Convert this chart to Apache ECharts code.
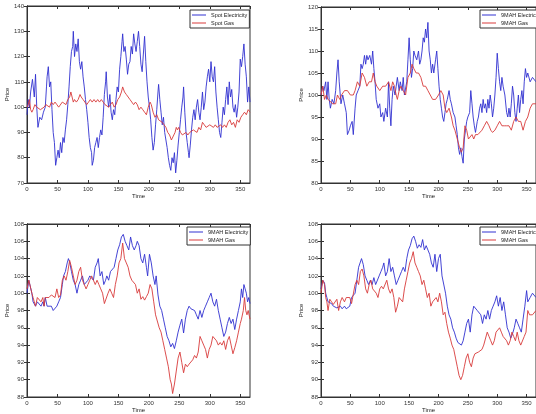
<!DOCTYPE html>
<html><head><meta charset="utf-8">
<script src="https://cdn.jsdelivr.net/npm/echarts@6/dist/echarts.min.js"></script>
<style>html,body{margin:0;padding:0;background:#fff}#c{width:536px;height:414px}</style>
</head><body><div id="c"></div>
<script>
// ---- Data (time in days, price index) ----
const xTicks = [0, 50, 100, 150, 200, 250, 300, 350];
const legendNames1 = ['Spot Electricity', 'Spot Gas'];
const legendNames2 = ['9MAH Electricity', '9MAH Gas'];
const legendNames3 = ['9MAH Electricity', '9MAH Gas'];
const legendNames4 = ['9MAH Electricity', '9MAH Gas'];

const spotElec = [[0,97],[2,103],[4,100],[6,106],[9,111],[12,104],[14,113],[16,100],[18,92],[21,96],[24,95],[27,98],[30,100],[32,108],[33,112],[35,116],[37,108],[39,110],[41,99],[43,90],[45,86],[47,77],[49,80],[51,83],[53,80],[55,86],[57,82],[59,88],[61,86],[63,91],[65,95],[67,101],[69,108],[71,116],[73,122],[75,124],[76,130],[78,120],[80,125],[82,122],[84,127],[86,118],[88,115],[90,118],[92,112],[94,108],[96,103],[98,99],[100,94],[102,88],[104,84],[106,82],[107,77],[109,79],[111,84],[113,86],[115,88],[117,84],[119,88],[121,91],[123,89],[125,96],[127,105],[129,110],[130,114],[132,104],[134,100],[136,105],[138,98],[140,95],[142,99],[144,97],[146,103],[148,108],[150,106],[152,115],[154,120],[156,126],[157,129],[159,122],[161,124],[163,119],[165,113],[167,117],[169,118],[171,124],[173,121],[175,129],[177,125],[179,122],[181,126],[183,130],[185,124],[187,117],[189,114],[191,121],[193,128],[195,118],[197,110],[199,104],[201,100],[203,95],[205,88],[207,83],[209,86],[211,93],[213,99],[215,106],[216,109],[218,103],[220,98],[222,93],[224,96],[226,90],[228,87],[230,84],[232,80],[234,77],[236,75],[238,80],[240,78],[242,82],[244,74],[246,79],[248,85],[250,90],[252,95],[254,100],[256,104],[257,108],[259,98],[261,90],[263,86],[265,82],[266,80],[268,85],[270,91],[272,96],[274,99],[276,95],[278,100],[280,103],[282,98],[284,95],[286,100],[288,106],[290,99],[292,102],[294,108],[296,112],[298,115],[300,110],[302,118],[304,112],[306,110],[308,116],[310,106],[312,100],[314,95],[316,90],[318,88],[320,94],[322,100],[324,97],[326,103],[328,108],[330,101],[332,110],[334,104],[336,107],[338,100],[340,98],[342,101],[344,96],[346,100],[348,106],[350,119],[352,116],[354,120],[356,125],[358,117],[360,112],[362,102],[364,108],[366,102]];
const spotGas = [[0,100],[2,101],[4,103],[6,99],[8,98],[10,99],[13,101],[16,100],[19,100],[22,99],[25,99],[28,100],[31,101],[34,101],[37,100],[40,102],[43,101],[46,102],[49,101],[52,100],[55,100],[58,102],[61,102],[64,101],[67,103],[70,104],[72,106],[74,104],[76,102],[78,103],[81,102],[84,103],[87,105],[89,104],[92,103],[95,102],[98,101],[101,102],[104,103],[107,102],[110,103],[113,102],[116,103],[119,102],[122,103],[125,102],[128,101],[131,101],[134,100],[137,101],[140,102],[143,100],[146,101],[149,103],[152,104],[155,106],[157,108],[160,106],[163,105],[166,104],[169,103],[172,103],[175,101],[178,102],[181,101],[184,99],[187,100],[190,99],[193,98],[196,97],[199,100],[202,102],[204,101],[207,98],[210,96],[213,97],[216,95],[219,95],[222,94],[225,93],[228,92],[231,90],[234,89],[237,87],[239,87],[241,89],[243,90],[245,92],[247,91],[249,92],[252,90],[255,89],[258,89],[261,90],[264,89],[267,90],[270,90],[273,91],[276,91],[279,90],[282,92],[285,91],[288,94],[291,93],[294,92],[297,92],[300,93],[303,93],[306,92],[309,93],[312,92],[315,92],[318,93],[321,92],[324,93],[327,92],[330,94],[333,95],[336,93],[339,94],[342,92],[345,95],[348,94],[351,96],[354,97],[357,98],[360,97],[363,99],[366,98]];

const mahElecA = [[0,100],[3,102],[5,101],[8,103],[10,99],[12,103],[14,99],[16,97],[19,99],[22,98],[25,101],[27,105],[29,108],[31,103],[34,98],[37,100],[40,98],[43,96],[45,91],[48,92],[50,93],[53,94],[55,91],[58,97],[60,100],[63,101],[66,102],[68,107],[70,106],[72,107],[74,109],[76,107],[78,109],[80,108],[83,109],[86,107],[88,110],[90,106],[92,103],[94,99],[97,97],[100,98],[102,95],[105,96],[107,94],[110,97],[113,95],[115,103],[117,97],[119,93],[121,99],[123,102],[126,100],[128,102],[130,104],[133,101],[135,103],[138,101],[140,104],[142,100],[144,100],[146,103],[148,108],[150,113],[152,108],[154,104],[156,106],[158,110],[160,109],[163,108],[166,110],[168,107],[170,108],[172,110],[174,113],[176,112],[178,115],[180,113],[182,116.5],[184,110],[186,108],[188,105],[190,107],[192,105],[195,108],[197,110],[199,106],[201,102],[203,99],[205,97],[207,95],[209,94],[211,96],[213,98],[215,99],[218,101],[220,99],[222,98],[225,96],[228,95],[230,93],[232,91],[234,88],[236,86.5],[238,88],[240,86],[242,84.5],[244,90],[246,92],[248,94],[250,95],[253,96],[255,101],[257,98],[259,95],[261,93],[263,91.5],[266,94],[268,95],[270,97],[272,98],[274,96],[276,99],[278,97],[280,98],[282,96],[284,99],[286,97],[288,100],[290,98],[292,95],[294,97],[296,100],[298,104],[300,109.5],[302,106],[304,103],[306,101],[308,104],[310,102],[313,100],[316,96],[318,95],[320,97],[322,95],[324,98],[326,102],[328,100],[330,96],[332,94],[334,97],[336,100],[338,96],[340,99],[342,101],[344,98],[346,103],[348,106],[350,104],[352,105],[356,103],[360,104],[366,103]];
const mahGasA = [[0,100],[3,102],[6,99],[9,100],[12,99],[15,99],[20,98],[25,98],[28,100],[32,99],[35,100],[40,101],[45,101],[50,100],[55,100],[58,101],[62,103],[66,102],[70,105],[74,104],[78,102],[82,103],[86,103],[89,105],[92,103],[95,102],[100,101],[105,102],[110,102],[115,103],[119,101],[122,103],[125,102],[128,100],[130,99],[133,101],[136,102],[140,101],[144,100],[148,104],[152,105],[155,107],[158,106],[162,105],[166,105],[170,104],[174,102],[178,102],[182,101],[186,100],[190,99],[195,99],[200,100],[204,101],[208,100],[211,97],[214,96],[218,97],[222,95],[225,93],[228,92],[232,90],[236,88],[239,87],[242,88],[245,93],[248,92],[251,90],[254,90],[257,91],[260,90],[263,91],[267,91],[270,91],[274,92],[278,93],[282,94],[286,93],[289,92],[292,91.5],[296,92],[300,93],[304,94],[308,93],[312,93],[316,93],[320,93],[324,92],[328,94],[332,95],[336,94],[340,94],[344,92],[348,94],[352,95],[356,97],[360,98],[366,98]];

const mahElecB = [[0,100],[3,101.5],[6,101.5],[8,100],[10,99],[12,99],[14,98.5],[17,99],[20,98.8],[23,98.5],[26,99],[28,98.5],[30,99.5],[33,98.5],[36,98.5],[40,98.5],[43,98],[46,97.8],[49,98.5],[52,99],[55,99.5],[58,101],[60,102],[63,102.5],[66,103.5],[68,104],[70,103.6],[73,102.5],[76,101.5],[79,101],[82,100],[85,101],[88,101.5],[91,102],[94,101],[97,101],[100,101.5],[103,102],[106,102],[109,101.5],[112,103],[115,103.5],[117,104],[120,102],[123,102.5],[126,101],[129,101.5],[131,102],[134,101.5],[137,102.5],[140,102.5],[143,103],[146,104],[149,105],[152,105.6],[155,106.5],[158,106.8],[161,106],[164,105.5],[167,105],[170,106.5],[173,105.5],[176,105],[179,105.5],[181,106],[184,105.5],[187,104],[190,103.5],[193,104.5],[196,103],[198,102],[201,104.5],[204,103.5],[207,102],[210,101],[212,102],[215,99.8],[218,98.5],[221,98],[224,97],[227,96],[230,95],[233,94.5],[236,93.8],[239,94.2],[242,93.6],[245,94.5],[248,95.5],[251,96.3],[254,97],[257,95.4],[260,97],[263,98],[266,98.5],[269,98.2],[272,98.3],[275,98],[278,97.5],[281,97],[284,98],[287,97.2],[290,98],[293,98.5],[296,99],[299,99.5],[302,100],[305,99],[308,98.5],[311,99.3],[314,98],[317,97],[320,96],[323,95],[326,95.5],[329,96.5],[332,97.2],[335,96.5],[338,97],[341,95.8],[344,97],[347,98],[350,99],[352,100.5],[354,99.5],[356,101],[358,100.5],[360,100],[362,99],[364,99.5],[366,98.8]];
const mahGasB = [[0,100.5],[3,101.5],[6,101.5],[8,100],[10,99.5],[12,99],[14,98.5],[17,99.5],[20,99.5],[23,99],[26,99.5],[28,98.5],[30,99.5],[33,99.5],[36,99.5],[40,99.8],[43,100],[46,99.5],[49,100.5],[52,99.5],[55,99.8],[58,101.5],[61,102],[64,101.5],[67,102.5],[70,103.8],[73,103],[76,102],[79,101],[82,101.5],[85,102.5],[88,103],[91,101.5],[94,101],[97,100.5],[100,101],[103,101.5],[106,102],[109,101.5],[112,101],[115,101.5],[118,101],[121,100.5],[124,100],[127,98.8],[130,98.7],[133,100],[136,100.5],[139,100],[142,99.5],[145,101],[148,102],[151,103.5],[154,104],[157,105.8],[160,104],[163,103.5],[166,103],[169,102],[172,101.5],[175,101.5],[178,101],[181,100],[184,100.5],[187,99.3],[190,99.6],[193,99.2],[196,99.6],[199,100],[202,101],[205,100.5],[208,99],[211,97.5],[214,97.5],[217,96],[220,95.5],[223,94.5],[226,93.5],[229,92.5],[232,91.5],[235,90],[237,89.5],[239,88.4],[242,89.5],[245,91],[248,92.5],[251,93.2],[254,92],[257,90.8],[260,91.8],[263,91.5],[266,91.8],[269,92],[272,92.3],[275,92.8],[278,92.5],[281,93.2],[284,95],[287,94.5],[290,94],[293,93.5],[296,92.5],[299,93.5],[302,94],[305,95],[308,95],[311,94.5],[314,94],[317,94.3],[320,94],[323,94.5],[326,93.5],[329,94.5],[332,95],[335,94],[338,93],[341,93.7],[344,94.5],[347,95.5],[350,96.5],[352,97],[355,98],[357,99.5],[359,98],[361,97.5],[363,98],[366,97]];

const mahElecC = [[0,100.5],[3,101.5],[6,101.2],[8,100],[10,99.5],[12,99],[15,98.8],[18,98.8],[21,98.5],[24,98.7],[27,98.3],[30,98.5],[33,98.5],[36,98.2],[40,98.5],[43,98.2],[46,98.3],[49,98.5],[52,99.5],[55,99.3],[58,100],[61,101.5],[64,103],[67,103],[69,104],[72,103.3],[75,102],[78,101.5],[81,101],[84,101.5],[87,101],[90,101.8],[93,101],[96,101],[99,102],[102,102.5],[105,103],[107,103.5],[110,102],[113,102.5],[116,104],[119,102.5],[122,103],[125,102],[128,101],[131,101.5],[134,102],[137,102.5],[140,103],[143,102.5],[146,104],[149,105],[152,105.5],[155,106.3],[158,106.6],[161,106],[164,105.2],[167,105.6],[170,105.3],[173,106.2],[176,105],[179,105.5],[182,105],[185,104.5],[188,103.5],[191,103],[194,104.5],[197,102.5],[200,104],[203,104.5],[206,102],[209,101.8],[212,100],[215,98.5],[218,97.5],[221,97],[224,96],[227,95.5],[230,94.8],[233,94.3],[236,94.5],[239,94],[242,94.5],[245,95.5],[248,96.5],[251,97],[254,95.5],[257,97.5],[260,98.5],[263,98.6],[266,98],[269,98],[272,97.5],[275,96.5],[278,97.5],[281,97],[284,98],[287,97],[290,98],[293,98.5],[296,99],[299,99.7],[302,98.5],[305,99.5],[308,98],[311,99],[314,97.5],[317,96],[320,95.5],[323,94.8],[326,95.3],[329,96],[332,97],[335,96.5],[338,96],[341,95.5],[344,97],[347,98.5],[350,100.3],[352,99],[356,99.5],[360,100],[366,99.5]];
const mahGasC = [[0,100],[3,101.5],[6,101],[8,99.5],[10,99],[12,98],[15,99.3],[18,99],[21,98.7],[24,98.5],[27,99.3],[30,98],[33,99],[36,99.5],[40,99],[43,99.5],[46,99.3],[49,99.5],[52,98.8],[55,99],[58,101],[61,101.5],[64,101],[67,102.5],[70,102.8],[73,102],[76,100.5],[79,100],[82,101],[85,101.5],[88,100.5],[91,100.5],[94,100],[97,99.5],[100,100.5],[103,100.8],[106,100.5],[109,100.5],[112,101.5],[115,100.5],[118,100],[121,100.5],[124,99.5],[127,97.8],[130,98.5],[133,99.5],[136,99.5],[139,99],[142,100.5],[145,101.5],[148,102.5],[151,103.5],[154,104],[157,104.8],[160,103.5],[163,103],[166,102.5],[169,102],[172,101],[175,101.5],[178,100.5],[181,99.5],[184,100],[187,98.5],[190,99],[193,98.8],[196,99.5],[199,99],[202,100],[205,99],[208,97.5],[211,97.8],[214,96.5],[217,95.5],[220,94.8],[223,94],[226,93.5],[229,92.5],[232,91.5],[235,90.5],[238,90],[241,90.5],[244,91.5],[247,92.5],[250,93],[253,92],[256,91.5],[259,92.5],[262,93],[265,93],[268,93.2],[271,93.3],[274,93.5],[277,94],[280,94],[283,95.5],[286,95],[289,94.5],[292,94],[295,94.5],[298,95.5],[301,95.5],[304,96],[307,95.5],[310,95],[313,95],[316,94.5],[319,94],[322,94.5],[325,95.5],[328,95],[331,94.5],[334,95.5],[337,94.5],[340,94],[343,93.8],[346,95],[349,95.5],[352,98],[355,97.5],[360,97.5],[366,98]];

// ---- Layout ----
const panels = [
  {grid:{left:27, top:6, width:223, height:177}, ymin:70, ymax:140, yint:10, names:legendNames1, elec:spotElec, gas:spotGas, lg:{left:190, top:10}},
  {grid:{left:321, top:7, width:224, height:176}, ymin:80, ymax:120, yint:5, names:legendNames2, elec:mahElecA, gas:mahGasA, lg:{left:480, top:10}},
  {grid:{left:27, top:224, width:223, height:176}, ymin:88, ymax:108, yint:2, names:legendNames3, elec:mahElecB, gas:mahGasB, lg:{left:187, top:227}},
  {grid:{left:321, top:224, width:224, height:176}, ymin:88, ymax:108, yint:2, names:legendNames4, elec:mahElecC, gas:mahGasC, lg:{left:480, top:227}}
];
const FONT = 'Liberation Sans';
const lab = {fontSize:6, color:'#333', fontFamily:FONT};
const grid=[], xAxis=[], yAxis=[], series=[], legend=[];
panels.forEach((p,i)=>{
  grid.push(Object.assign({show:true, borderColor:'#333', borderWidth:1, backgroundColor:'#fff'}, p.grid));
  const xbase = {type:'value', gridIndex:i, min:0, max:366, interval:50, splitLine:{show:false},
    axisLine:{show:true, lineStyle:{color:'#333', width:1}}, axisTick:{inside:true, length:3, lineStyle:{color:'#333'}}};
  xAxis.push(Object.assign({}, xbase, {position:'bottom', name:'Time', nameLocation:'middle', nameGap:10,
    nameTextStyle:{fontSize:6, color:'#222', fontFamily:FONT},
    axisLabel:Object.assign({margin:3, showMaxLabel:false}, lab)}));
  xAxis.push(Object.assign({}, xbase, {position:'top', axisLabel:{show:false}}));
  const ybase = {type:'value', gridIndex:i, min:p.ymin, max:p.ymax, interval:p.yint, splitLine:{show:false},
    axisLine:{show:true, lineStyle:{color:'#333', width:1}}, axisTick:{inside:true, length:3, lineStyle:{color:'#333'}}};
  yAxis.push(Object.assign({}, ybase, {position:'left', name:'Price', nameLocation:'middle', nameGap:15,
    nameTextStyle:{fontSize:6, color:'#222', fontFamily:FONT},
    axisLabel:Object.assign({margin:3}, lab)}));
  yAxis.push(Object.assign({}, ybase, {position:'right', axisLabel:{show:false}}));
  series.push({type:'line', name:p.names[0], xAxisIndex:2*i, yAxisIndex:2*i, data:p.elec, showSymbol:false,
    lineStyle:{color:'#3030d0', width:0.9}, itemStyle:{color:'#3030d0'}, z:2});
  series.push({type:'line', name:p.names[1], xAxisIndex:2*i, yAxisIndex:2*i, data:p.gas, showSymbol:false,
    lineStyle:{color:'#d83a3a', width:0.9}, itemStyle:{color:'#d83a3a'}, z:3});
  legend.push({data:p.names, orient:'vertical', left:p.lg.left, top:p.lg.top, backgroundColor:'#fff',
    borderColor:'#333', borderWidth:1, borderRadius:0, padding:[2,2,2,2], itemGap:2, itemWidth:14, itemHeight:1,
    icon:'rect', textStyle:{fontSize:5.5, color:'#222', fontFamily:FONT}, selectedMode:false});
});
const chart = echarts.init(document.getElementById('c'), null, {renderer:'canvas'});
chart.setOption({animation:false, backgroundColor:'#fff', grid, xAxis, yAxis, series, legend});
</script></body></html>
